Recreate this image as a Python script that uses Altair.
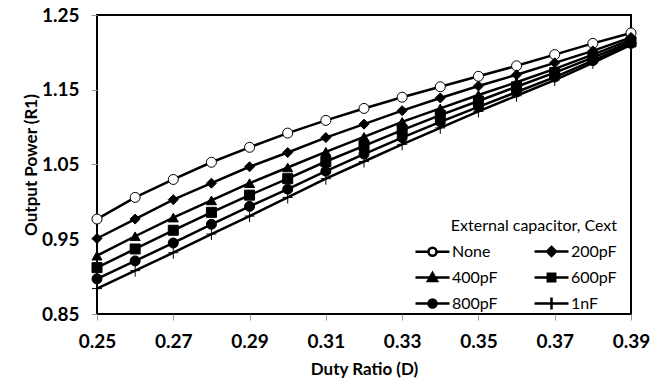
import altair as alt
import pandas as pd

duty = [0.25, 0.26, 0.27, 0.28, 0.29, 0.30, 0.31, 0.32, 0.33, 0.34, 0.35, 0.36, 0.37, 0.38, 0.39]
series_names = ["None", "200pF", "400pF", "600pF", "800pF", "1nF"]
p_none = [0.977, 1.006, 1.030, 1.053, 1.073, 1.092, 1.109, 1.125, 1.140, 1.154, 1.168, 1.182, 1.197, 1.212, 1.226]
p_200 = [0.951, 0.977, 1.003, 1.025, 1.047, 1.066, 1.086, 1.104, 1.122, 1.139, 1.155, 1.170, 1.186, 1.202, 1.220]
p_400 = [0.928, 0.954, 0.979, 1.002, 1.025, 1.046, 1.067, 1.087, 1.107, 1.125, 1.143, 1.160, 1.178, 1.197, 1.217]
p_600 = [0.912, 0.937, 0.962, 0.986, 1.009, 1.031, 1.054, 1.075, 1.096, 1.116, 1.135, 1.154, 1.173, 1.193, 1.214]
p_800 = [0.897, 0.921, 0.945, 0.970, 0.994, 1.017, 1.041, 1.064, 1.086, 1.107, 1.127, 1.147, 1.167, 1.189, 1.212]
p_1n = [0.884, 0.908, 0.932, 0.957, 0.981, 1.006, 1.031, 1.054, 1.077, 1.099, 1.121, 1.142, 1.163, 1.186, 1.210]
x_ticks = [0.25, 0.27, 0.29, 0.31, 0.33, 0.35, 0.37, 0.39]
y_ticks = [0.85, 0.95, 1.05, 1.15, 1.25]

rows = []
for name, vals in zip(series_names, [p_none, p_200, p_400, p_600, p_800, p_1n]):
    for d, v in zip(duty, vals):
        rows.append({"D": d, "P": v, "Cext": name, "Legend": name})
df = pd.DataFrame(rows)

plot_shapes = ["circle", "diamond", "triangle-up", "square", "circle", "M-1,0H1M0,-1.2V1.2"]
plot_fills = ["white", "black", "black", "black", "black", "black"]
legend_strokes = ["black", "black", "black", "black", "black", "black"]

circ = "M0.4,0A0.4,0.4 0 1,1 -0.4,0A0.4,0.4 0 1,1 0.4,0Z"
legend_shapes = [
    "M-1.7,0H-0.4M0.4,0H1.7" + circ,
    "M-1.7,0H1.7M0,-0.45L0.45,0L0,0.45L-0.45,0Z",
    "M-1.7,0H1.7M0,-0.45L0.45,0.35L-0.45,0.35Z",
    "M-1.7,0H1.7M-0.37,-0.37H0.37V0.37H-0.37Z",
    "M-1.7,0H1.7" + circ,
    "M-1.7,0H1.7M0,-0.6V0.6",
]

x = alt.X("D:Q", scale=alt.Scale(domain=[0.25, 0.39], nice=False, zero=False),
          axis=alt.Axis(values=x_ticks, format=".2f", title="Duty Ratio (D)", titlePadding=10))
y = alt.Y("P:Q", scale=alt.Scale(domain=[0.85, 1.25], nice=False, zero=False),
          axis=alt.Axis(values=y_ticks, format=".2f", title="Output Power (R1)", titlePadding=1))

base = alt.Chart(df)

lines = base.mark_line(color="black", strokeWidth=2.5).encode(x=x, y=y, detail="Cext:N")

points = base.mark_point(filled=True, stroke="black", strokeWidth=1, opacity=1, size=100).encode(
    x=x, y=y,
    shape=alt.Shape("Cext:N", scale=alt.Scale(domain=series_names, range=plot_shapes), legend=None),
    fill=alt.Fill("Cext:N", scale=alt.Scale(domain=series_names, range=plot_fills), legend=None),
)

leg = alt.Legend(
    orient="none", legendX=324, legendY=203, columns=2, direction="horizontal",
    title="External capacitor, Cext", titleFont="Lato", titleFontSize=16, titleFontWeight="normal",
    titleColor="black", titleAnchor="end", titlePadding=6,
    labelFont="Lato", labelFontSize=16, labelColor="black", labelOffset=8,
    symbolSize=400, symbolStrokeWidth=2.5, symbolOpacity=1,
    rowPadding=5, columnPadding=31, padding=0,
)

legend_layer = base.mark_point(
    filled=False, strokeWidth=2.5, opacity=0, size=400
).encode(
    x=x, y=y,
    shape=alt.Shape("Legend:N", scale=alt.Scale(domain=series_names, range=legend_shapes), legend=leg),
    fill=alt.Fill("Legend:N", scale=alt.Scale(domain=series_names, range=plot_fills), legend=leg),
    stroke=alt.Stroke("Legend:N", scale=alt.Scale(domain=series_names, range=legend_strokes), legend=leg),
)

chart = alt.layer(lines, points, legend_layer).resolve_scale(
    shape="independent", fill="independent", stroke="independent"
).properties(
    width=534, height=299,
    autosize=alt.AutoSizeParams(type="none"),
    padding={"left": 89, "top": 7, "right": 26, "bottom": 64},
).configure_view(stroke="black", strokeWidth=2).configure_axis(
    domain=False, grid=False, tickColor="#999", tickSize=6, tickWidth=1, labelFlush=False,
    labelFont="Lato", labelFontWeight="bold", labelFontSize=19, labelColor="black", labelPadding=12,
    titleFont="Lato", titleFontSize=17, titleFontWeight="bold", titleColor="black",
)

chart.save("out.html", embed_options={"renderer": "svg", "actions": False})
